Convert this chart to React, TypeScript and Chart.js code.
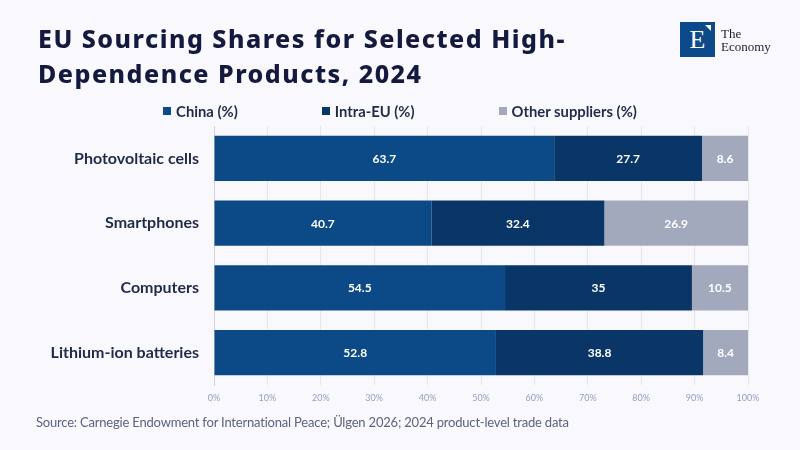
import React, { useEffect, useRef } from "react";
import { Chart, registerables } from "chart.js";

Chart.register(...registerables);

const categories = ["Photovoltaic cells", "Smartphones", "Computers", "Lithium-ion batteries"];
const seriesNames = ["China (%)", "Intra-EU (%)", "Other suppliers (%)"];
const chinaValues = [63.7, 40.7, 54.5, 52.8];
const intraEuValues = [27.7, 32.4, 35, 38.8];
const otherValues = [8.6, 26.9, 10.5, 8.4];
const seriesColors = ["#0c4a87", "#0a3567", "#a3a9bd"];
const xTicks = [0, 10, 20, 30, 40, 50, 60, 70, 80, 90, 100];

const FONT = "Lato, 'Noto Sans', sans-serif";

const valueLabels = {
  id: "valueLabels",
  afterDatasetsDraw(chart: any) {
    const ctx = chart.ctx;
    ctx.save();
    ctx.fillStyle = "#ffffff";
    ctx.font = `bold 12px ${FONT}`;
    ctx.textAlign = "center";
    ctx.textBaseline = "middle";
    chart.data.datasets.forEach((ds: any, i: number) => {
      const meta = chart.getDatasetMeta(i);
      meta.data.forEach((el: any, j: number) => {
        const v = ds.data[j];
        const cx = (el.x + el.base) / 2;
        ctx.fillText(String(v), cx, el.y + 0.5);
      });
    });
    ctx.restore();
  },
};

export default function App() {
  const canvasRef = useRef<HTMLCanvasElement | null>(null);

  useEffect(() => {
    document.body.style.margin = "0";
    const values = [chinaValues, intraEuValues, otherValues];
    const chart = new Chart(canvasRef.current as HTMLCanvasElement, {
      type: "bar",
      data: {
        labels: categories,
        datasets: seriesNames.map((name, i) => ({
          label: name,
          data: values[i],
          backgroundColor: seriesColors[i],
          borderWidth: 0,
          barPercentage: 0.7,
          categoryPercentage: 1.0,
        })),
      },
      options: {
        indexAxis: "y",
        animation: false,
        responsive: false,
        maintainAspectRatio: false,
        devicePixelRatio: 1,
        layout: { padding: { top: 126, right: 52, left: 0, bottom: 0 } },
        plugins: {
          legend: { display: false },
          tooltip: { enabled: false },
          title: { display: false },
        },
        scales: {
          x: {
            stacked: true,
            min: 0,
            max: 100,
            afterFit: (s: any) => {
              s.height = 65;
            },
            afterBuildTicks: (s: any) => {
              s.ticks = xTicks.map((v) => ({ value: v }));
            },
            ticks: {
              padding: 8,
              color: "#95a0be",
              font: { family: FONT, size: 9 },
              callback: (v: any) => `${v}%`,
            },
            grid: { color: "#e3e6ee", drawTicks: false, lineWidth: 1 },
            border: { display: false },
          },
          y: {
            stacked: true,
            afterFit: (s: any) => {
              s.width = 214;
            },
            ticks: {
              padding: 15,
              color: "#1f2a4a",
              font: { family: FONT, size: 16, weight: "bold" },
            },
            grid: { display: false, drawTicks: false },
            border: { display: true, color: "#cfd3dc", width: 1 },
          },
        },
      },
      plugins: [valueLabels],
    });
    return () => chart.destroy();
  }, []);

  return (
    <div
      style={{
        position: "fixed",
        left: 0,
        top: 0,
        width: 800,
        height: 450,
        background: "#f9f9fd",
        fontFamily: FONT,
        overflow: "hidden",
      }}
    >
      <canvas ref={canvasRef} width={800} height={450} style={{ position: "absolute", left: 0, top: 0, width: 800, height: 450 }} />
      <div
        style={{
          position: "absolute",
          left: 38,
          top: 21,
          fontFamily: "'Noto Sans', sans-serif",
          fontSize: 25,
          lineHeight: "35px",
          letterSpacing: "1.5px",
          fontWeight: 800,
          color: "#141a3f",
          width: 640,
          whiteSpace: "nowrap",
        }}
      >
        EU Sourcing Shares for Selected High-
        <br />
        Dependence Products, 2024
      </div>
      <div style={{ position: "absolute", left: 680, top: 22, display: "flex", alignItems: "center" }}>
        <div
          style={{
            width: 35,
            height: 35,
            background: "#0d4a8a",
            color: "#ffffff",
            fontFamily: "'Liberation Serif', 'DejaVu Serif', serif",
            fontSize: 26,
            lineHeight: "35px",
            textAlign: "center",
            position: "relative",
          }}
        >
          E
          <div
            style={{
              position: "absolute",
              right: 4,
              top: 3,
              width: 0,
              height: 0,
              borderLeft: "6px solid transparent",
              borderTop: "6px solid #ffffff",
            }}
          />
        </div>
        <div
          style={{
            marginLeft: 6,
            fontFamily: "'Liberation Serif', 'DejaVu Serif', serif",
            fontSize: 13,
            lineHeight: "13px",
            color: "#1a1d2e",
          }}
        >
          The
          <br />
          Economy
        </div>
      </div>
      <div
        style={{
          position: "absolute",
          left: 0,
          top: 102,
          width: 800,
          display: "flex",
          justifyContent: "center",
          gap: 84,
          fontSize: 14.8,
          color: "#1f2a4a",
          fontWeight: 700,
        }}
      >
        {seriesNames.map((n, i) => (
          <div key={n} style={{ display: "flex", alignItems: "center" }}>
            <span style={{ display: "inline-block", width: 8, height: 8, background: seriesColors[i], marginRight: 5 }} />
            <span>{n}</span>
          </div>
        ))}
      </div>
      <div
        style={{
          position: "absolute",
          left: 36,
          top: 414,
          fontSize: 13,
          letterSpacing: "-0.2px",
          color: "#5b6282",
        }}
      >
        Source: Carnegie Endowment for International Peace; Ülgen 2026; 2024 product-level trade data
      </div>
    </div>
  );
}
